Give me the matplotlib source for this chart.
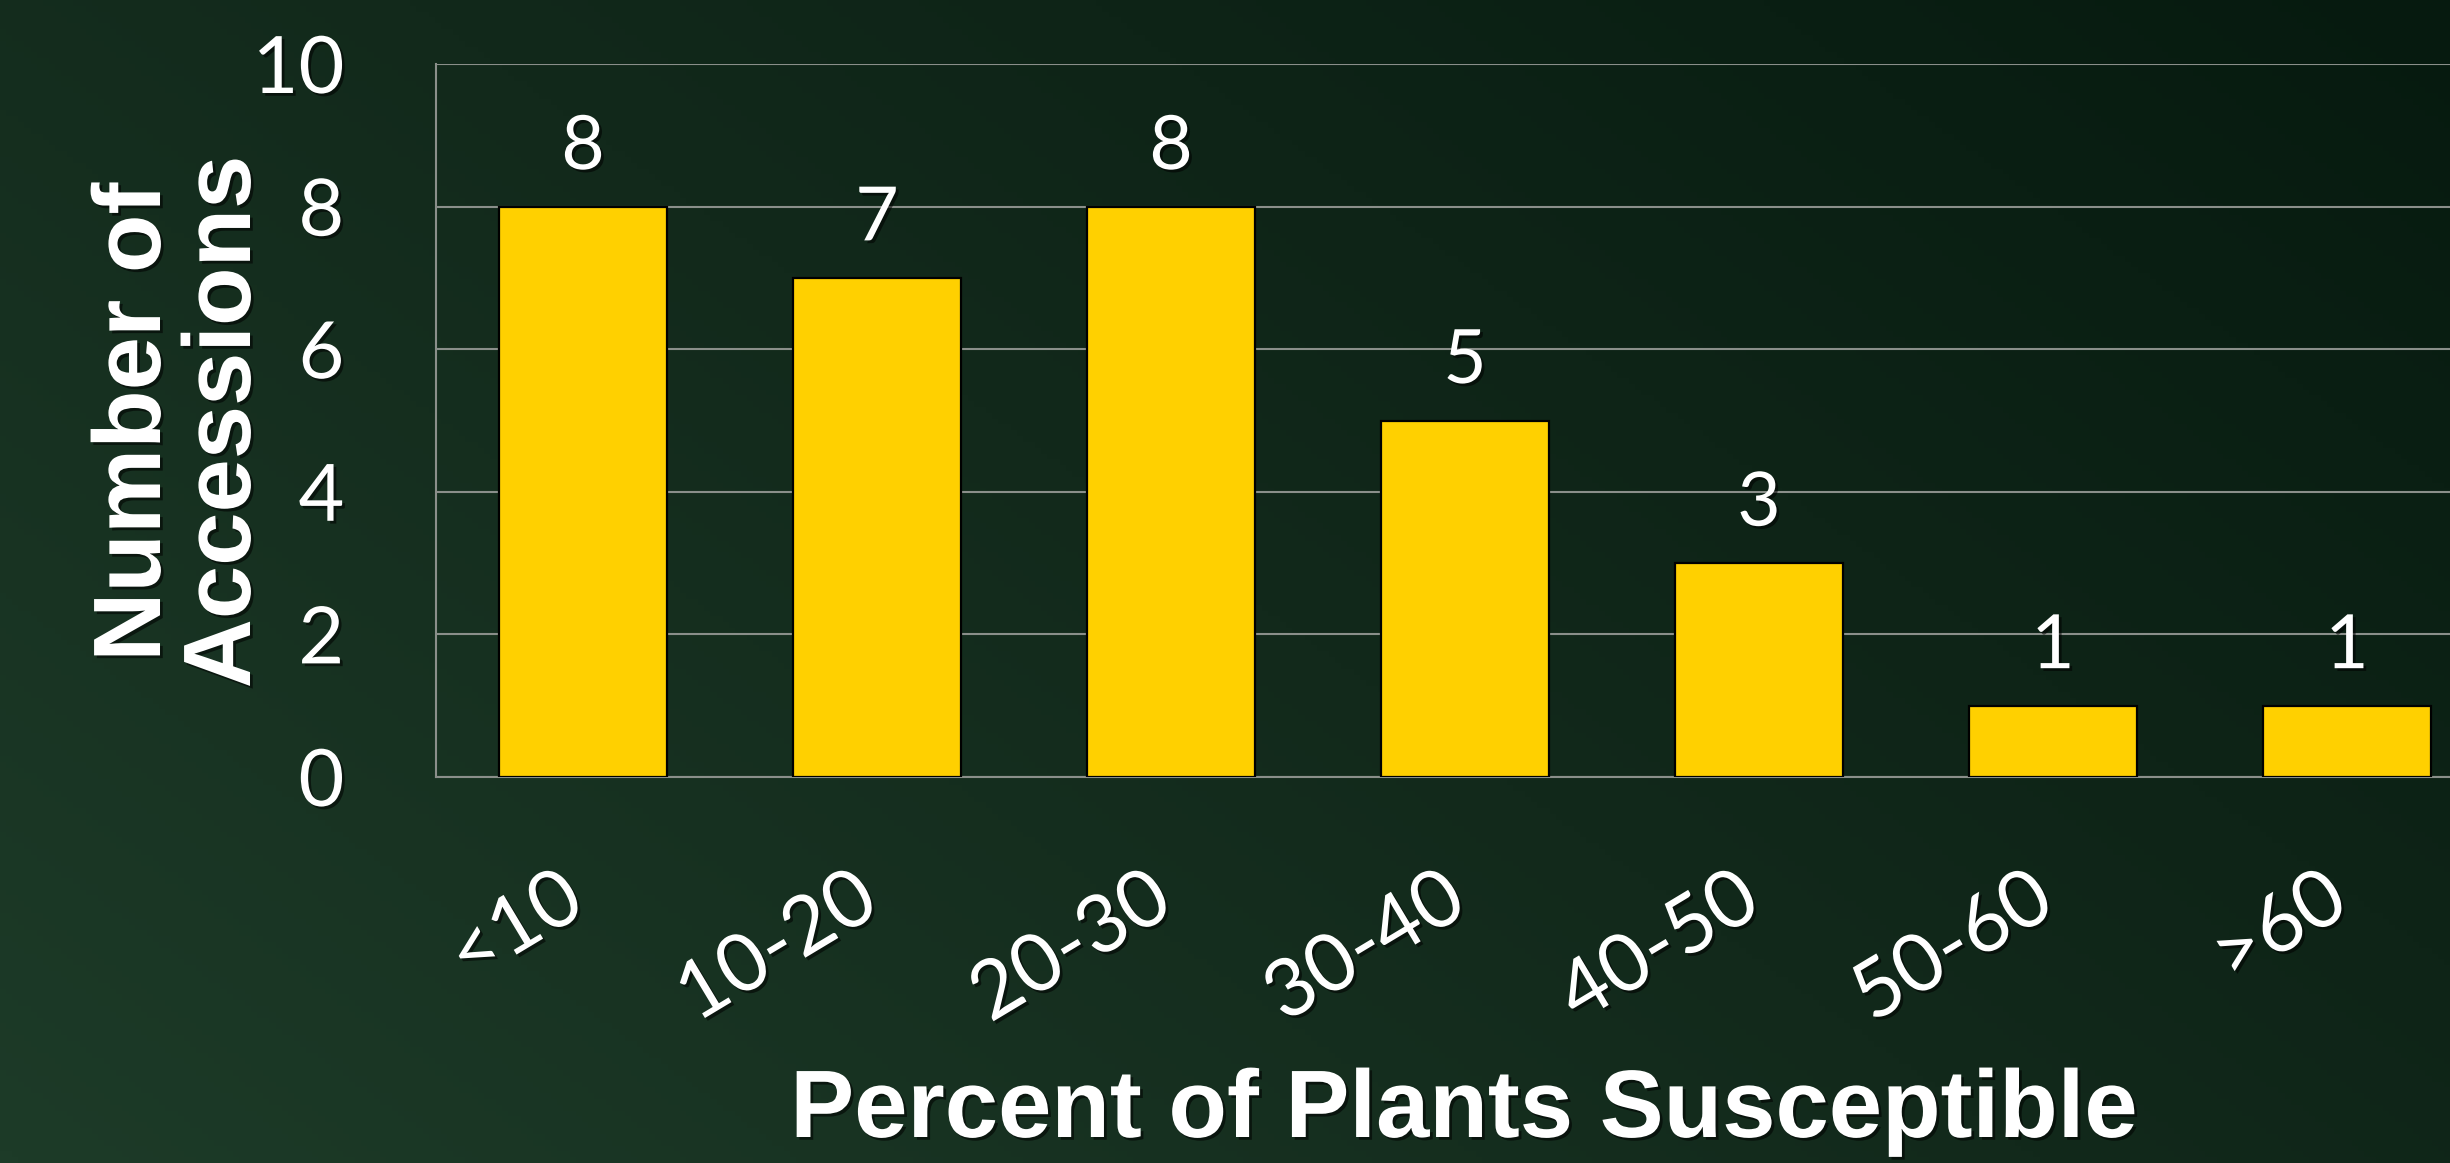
import numpy as np
import matplotlib
matplotlib.use("Agg")
import matplotlib.pyplot as plt
import matplotlib.patheffects as pe
from matplotlib.colors import LinearSegmentedColormap
from matplotlib.transforms import ScaledTranslation

categories = ["<10", "10-20", "20-30", "30-40", "40-50", "50-60", ">60"]
counts = [8, 7, 8, 5, 3, 1, 1]
y_ticks = [0, 2, 4, 6, 8, 10]
x_title = "Percent of Plants Susceptible"
y_title = "Number of\nAccessions"

BAR_COLOR = "#FFD000"
GRID_COLOR = "#8a8f8a"
TICK_FONT = ["Lato", "DejaVu Sans"]
TITLE_FONT = ["Liberation Sans", "DejaVu Sans"]

shadow = [pe.withSimplePatchShadow(offset=(2, -2), shadow_rgbFace="black", alpha=0.55)]

fig = plt.figure(figsize=(24.5, 11.63), dpi=100)

# background: diagonal dark green gradient (lighter bottom-left, darker top-right)
bg = fig.add_axes([0, 0, 1, 1], zorder=-10)
yy, xx = np.mgrid[0:1:200j, 0:1:400j]
t = (xx * 0.6 + (1 - yy) * 0.4)
cmap = LinearSegmentedColormap.from_list("bg", ["#1d3b28", "#12291b", "#061a0f"])
bg.imshow(t, cmap=cmap, aspect="auto", extent=[0, 1, 0, 1], origin="upper")
bg.axis("off")

# axes run past the right edge of the figure, like the original slide crop
ax = fig.add_axes([436 / 2450, 1 - 777 / 1163, 2058 / 2450, (777 - 64) / 1163])
ax.set_facecolor("none")

x = np.arange(len(categories))
ax.bar(x, counts, width=0.57, color=BAR_COLOR, edgecolor="black", linewidth=1.6, zorder=3)

for xi, v in zip(x, counts):
    ax.annotate(str(v), (xi, v), xytext=(0, 27), textcoords="offset points",
                ha="center", va="baseline", fontsize=54, color="white",
                family=TICK_FONT, path_effects=shadow, zorder=4)

ax.set_xlim(-0.5, len(categories) - 0.5)
ax.set_ylim(0, 10)
ax.set_yticks(y_ticks)
ax.set_yticklabels([str(v) for v in y_ticks], family=TICK_FONT, fontsize=57, color="white")
ax.set_xticks(x)
ax.set_xticklabels(categories, rotation=31, ha="right", family=TICK_FONT, fontsize=58, color="white")
ax.tick_params(axis="y", length=0, pad=66)
ax.tick_params(axis="x", length=0, pad=60)
off = ScaledTranslation(12 / 100, 0, fig.dpi_scale_trans)
for lab in ax.get_xticklabels():
    lab.set_transform(lab.get_transform() + off)
    lab.set_path_effects(shadow)
for lab in ax.get_yticklabels():
    lab.set_path_effects(shadow)

ax.grid(axis="y", color=GRID_COLOR, linewidth=1.5, zorder=0)
for s in ["top", "right"]:
    ax.spines[s].set_visible(False)
for s in ["left", "bottom"]:
    ax.spines[s].set_color(GRID_COLOR)
    ax.spines[s].set_linewidth(1.5)

fig.text(180 / 2450, 1 - 422 / 1163, y_title, rotation=90, ha="center", va="center",
         fontsize=69, fontweight="bold", color="white", family=TITLE_FONT,
         linespacing=1.0, path_effects=shadow)
fig.text(1464 / 2450, 1 - 1112 / 1163, x_title, ha="center", va="center",
         fontsize=69, fontweight="bold", color="white", family=TITLE_FONT,
         path_effects=shadow)

fig.savefig("out.png", dpi=100)
